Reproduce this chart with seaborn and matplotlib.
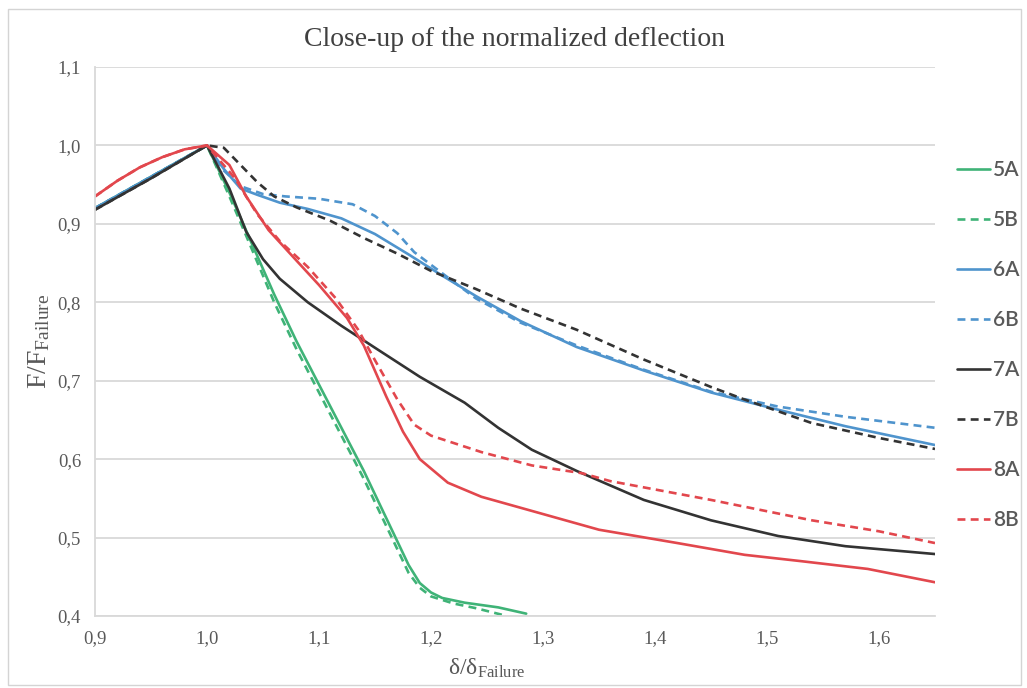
import matplotlib
matplotlib.use("Agg")
import matplotlib.pyplot as plt
from matplotlib.patches import Rectangle
from matplotlib.ticker import FuncFormatter, MultipleLocator
import pandas as pd
import seaborn as sns

# Normalized force/deflection curves for each specimen
x_5A = [0.90, 0.95, 1.00, 1.02, 1.04, 1.06, 1.08, 1.10, 1.12, 1.14, 1.16, 1.18, 1.19, 1.20, 1.21, 1.23, 1.26, 1.285]
y_5A = [0.920, 0.960, 1.000, 0.940, 0.875, 0.810, 0.750, 0.695, 0.640, 0.585, 0.525, 0.465, 0.442, 0.430, 0.423, 0.417, 0.411, 0.403]

x_5B = [0.90, 0.95, 1.00, 1.02, 1.04, 1.06, 1.08, 1.10, 1.12, 1.14, 1.16, 1.18, 1.19, 1.20, 1.22, 1.24, 1.265]
y_5B = [0.920, 0.960, 1.000, 0.935, 0.868, 0.800, 0.740, 0.685, 0.630, 0.575, 0.515, 0.455, 0.436, 0.425, 0.416, 0.410, 0.401]

x_6A = [0.90, 0.95, 1.00, 1.015, 1.03, 1.045, 1.065, 1.09, 1.12, 1.15, 1.18, 1.21, 1.24, 1.28, 1.33, 1.39, 1.45, 1.51, 1.57, 1.65]
y_6A = [0.920, 0.960, 1.000, 0.970, 0.945, 0.937, 0.927, 0.919, 0.907, 0.887, 0.861, 0.834, 0.808, 0.776, 0.743, 0.713, 0.685, 0.663, 0.642, 0.618]

x_6B = [0.90, 0.95, 1.00, 1.015, 1.03, 1.05, 1.07, 1.10, 1.13, 1.15, 1.17, 1.185, 1.21, 1.24, 1.28, 1.33, 1.39, 1.45, 1.51, 1.57, 1.65]
y_6B = [0.920, 0.960, 1.000, 0.968, 0.948, 0.938, 0.935, 0.932, 0.925, 0.910, 0.888, 0.864, 0.837, 0.805, 0.774, 0.745, 0.714, 0.686, 0.667, 0.654, 0.640]

x_7A = [0.90, 0.95, 1.00, 1.02, 1.035, 1.05, 1.065, 1.09, 1.12, 1.15, 1.19, 1.23, 1.26, 1.29, 1.33, 1.39, 1.45, 1.51, 1.57, 1.65]
y_7A = [0.918, 0.958, 1.000, 0.945, 0.890, 0.855, 0.830, 0.800, 0.770, 0.742, 0.705, 0.672, 0.640, 0.612, 0.585, 0.548, 0.522, 0.502, 0.489, 0.479]

x_7B = [0.90, 0.95, 1.00, 1.015, 1.03, 1.045, 1.06, 1.08, 1.11, 1.14, 1.17, 1.20, 1.24, 1.28, 1.33, 1.39, 1.45, 1.48, 1.54, 1.60, 1.65]
y_7B = [0.918, 0.958, 1.000, 0.997, 0.975, 0.953, 0.935, 0.921, 0.904, 0.882, 0.862, 0.840, 0.817, 0.792, 0.765, 0.727, 0.692, 0.676, 0.646, 0.627, 0.613]

x_8A = [0.90, 0.92, 0.94, 0.96, 0.98, 1.00, 1.02, 1.035, 1.055, 1.08, 1.10, 1.125, 1.14, 1.16, 1.175, 1.19, 1.215, 1.245, 1.275, 1.32, 1.35, 1.42, 1.48, 1.53, 1.59, 1.65]
y_8A = [0.935, 0.955, 0.972, 0.985, 0.995, 1.000, 0.975, 0.935, 0.892, 0.853, 0.822, 0.780, 0.745, 0.680, 0.635, 0.600, 0.570, 0.552, 0.540, 0.522, 0.510, 0.493, 0.478, 0.470, 0.460, 0.443]

x_8B = [0.90, 0.92, 0.94, 0.96, 0.98, 1.00, 1.025, 1.045, 1.065, 1.09, 1.115, 1.135, 1.15, 1.17, 1.185, 1.20, 1.215, 1.245, 1.29, 1.335, 1.36, 1.45, 1.54, 1.60, 1.65]
y_8B = [0.935, 0.955, 0.972, 0.985, 0.995, 1.000, 0.958, 0.912, 0.878, 0.845, 0.805, 0.765, 0.726, 0.676, 0.644, 0.630, 0.623, 0.609, 0.592, 0.582, 0.572, 0.548, 0.522, 0.508, 0.493]

series_names = ["5A", "5B", "6A", "6B", "7A", "7B", "8A", "8B"]
series_x = [x_5A, x_5B, x_6A, x_6B, x_7A, x_7B, x_8A, x_8B]
series_y = [y_5A, y_5B, y_6A, y_6B, y_7A, y_7B, y_8A, y_8B]

colors = {"5A": "#3fb377", "5B": "#3fb377",
          "6A": "#4f94cd", "6B": "#4f94cd",
          "7A": "#333333", "7B": "#333333",
          "8A": "#e2474d", "8B": "#e2474d"}
dashes = {n: ("" if n.endswith("A") else (3, 2)) for n in series_names}

frames = [pd.DataFrame({"disp": xs, "force": ys, "specimen": name})
          for name, xs, ys in zip(series_names, series_x, series_y)]
df = pd.concat(frames, ignore_index=True)

sns.set_theme(style="white")
serif = "Liberation Serif"
plt.rcParams["font.family"] = [serif, "DejaVu Serif"]
plt.rcParams["mathtext.fontset"] = "custom"
plt.rcParams["mathtext.rm"] = serif
plt.rcParams["mathtext.it"] = serif + ":italic"

W, H = 1027, 688
fig = plt.figure(figsize=(W / 100, H / 100), dpi=100)
fig.patch.set_facecolor("white")
ax = fig.add_axes([95 / W, 1 - 616 / H, 840 / W, 549 / H])

sns.lineplot(data=df, x="disp", y="force", hue="specimen", style="specimen",
             hue_order=series_names, style_order=series_names,
             palette=colors, dashes=dashes, estimator=None, sort=False,
             linewidth=1.9, ax=ax)

ax.set_xlim(0.9, 1.65)
ax.set_ylim(0.4, 1.1)
ax.xaxis.set_major_locator(MultipleLocator(0.1))
ax.yaxis.set_major_locator(MultipleLocator(0.1))
comma = FuncFormatter(lambda v, _: f"{v:.1f}".replace(".", ","))
ax.xaxis.set_major_formatter(comma)
ax.yaxis.set_major_formatter(comma)

ax.grid(axis="y", color="#d9d9d9", linewidth=1.3)
ax.grid(axis="x", visible=False)
for side in ("top", "right"):
    ax.spines[side].set_visible(False)
for side in ("left", "bottom"):
    ax.spines[side].set_color("#d9d9d9")
    ax.spines[side].set_linewidth(1.3)

ax.tick_params(axis="both", length=0, labelsize=13.5, labelcolor="#595959")
ax.tick_params(axis="x", pad=10)
ax.tick_params(axis="y", pad=10)

ax.set_xlabel(r"δ/δ$_{\mathrm{Failure}}$", fontsize=17, color="#595959")
ax.xaxis.set_label_coords((487 - 95) / 840, -0.075)
ax.set_ylabel(r"F/F$_{\mathrm{Failure}}$", fontsize=20, color="#595959", labelpad=4)
ax.set_title("Close-up of the normalized deflection", fontsize=20,
             color="#404040", pad=15)

handles, labels = ax.get_legend_handles_labels()
leg = ax.legend(handles, labels, loc="upper left",
                bbox_to_anchor=(957 / W, 1 - 160 / H), bbox_transform=fig.transFigure,
                frameon=False, labelspacing=1.44, handlelength=1.6,
                handletextpad=0.12, borderpad=0, borderaxespad=0,
                prop={"family": "Lato", "size": 15, "weight": "semibold"})
for txt in leg.get_texts():
    txt.set_color("#595959")

fig.patches.append(Rectangle((8 / W, 3 / H), (1021 - 8) / W, (679 - 3) / H,
                             transform=fig.transFigure, fill=False,
                             edgecolor="#d4d4d4", linewidth=1.0))

fig.savefig("out.png", dpi=100, facecolor="white")
